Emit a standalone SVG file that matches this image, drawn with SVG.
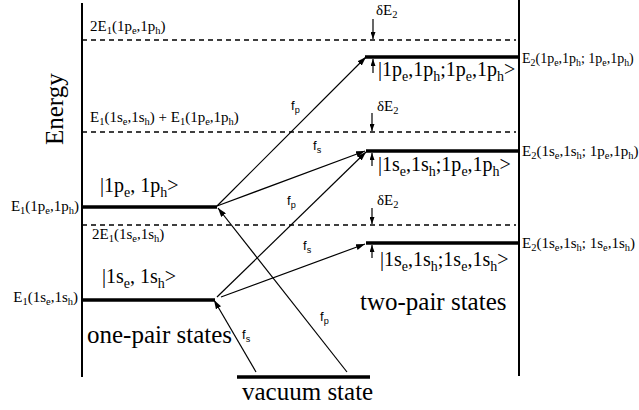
<svg xmlns="http://www.w3.org/2000/svg" width="639" height="410" viewBox="0 0 639 410">
<style>
.t{font-family:"Liberation Serif","Times New Roman",serif;fill:#000}
.sm{font-size:15px}
.lg{font-size:20px}
.xl{font-size:25px}
.s{font-size:0.7em}
.f{font-family:"Liberation Sans",Arial,sans-serif;font-size:13px;fill:#000}
.axis{stroke:#000;stroke-width:2;fill:none}
.dash{stroke:#000;stroke-width:1.3;stroke-dasharray:5 4;fill:none}
.lvl{stroke:#000;stroke-width:3.5;fill:none}
.conn{stroke:#000;stroke-width:1.2;fill:none;marker-end:url(#ah)}
.dE{stroke:#000;stroke-width:1.2;fill:none;marker-end:url(#ah2)}
</style>
<defs>
<marker id="ah" markerUnits="userSpaceOnUse" markerWidth="9" markerHeight="6" refX="9" refY="3" orient="auto"><path d="M0,0 L9,3 L0,6 z" fill="#000"/></marker>
<marker id="ah2" markerUnits="userSpaceOnUse" markerWidth="7" markerHeight="5" refX="7" refY="2.5" orient="auto"><path d="M0,0 L7,2.5 L0,5 z" fill="#000"/></marker>
</defs>
<rect width="639" height="410" fill="#fff"/>

<g id="axes">
<line class="axis" x1="82" y1="3" x2="82" y2="377"/>
<line class="axis" x1="519" y1="0" x2="519" y2="376"/>
<text class="t xl" transform="translate(63,145) rotate(-90)">Energy</text>
</g>

<g id="reference-levels">
<line class="dash" x1="82" y1="40" x2="516" y2="40"/>
<line class="dash" x1="82" y1="132" x2="516" y2="132"/>
<line class="dash" x1="82" y1="225" x2="516" y2="225"/>
<text class="t sm" x="90" y="31">2E<tspan class="s" dy="3">1</tspan><tspan dy="-3">(1p</tspan><tspan class="s" dy="3">e</tspan><tspan dy="-3">,1p</tspan><tspan class="s" dy="3">h</tspan><tspan dy="-3">)</tspan></text>
<text class="t sm" x="90" y="122">E<tspan class="s" dy="3">1</tspan><tspan dy="-3">(1s</tspan><tspan class="s" dy="3">e</tspan><tspan dy="-3">,1s</tspan><tspan class="s" dy="3">h</tspan><tspan dy="-3">) + E</tspan><tspan class="s" dy="3">1</tspan><tspan dy="-3">(1p</tspan><tspan class="s" dy="3">e</tspan><tspan dy="-3">,1p</tspan><tspan class="s" dy="3">h</tspan><tspan dy="-3">)</tspan></text>
<text class="t sm" x="92" y="239">2E<tspan class="s" dy="3">1</tspan><tspan dy="-3">(1s</tspan><tspan class="s" dy="3">e</tspan><tspan dy="-3">,1s</tspan><tspan class="s" dy="3">h</tspan><tspan dy="-3">)</tspan></text>
</g>

<g id="one-pair-1p">
<line class="lvl" x1="82" y1="207" x2="217" y2="207"/>
<text class="t sm" x="79" y="211" text-anchor="end">E<tspan class="s" dy="3">1</tspan><tspan dy="-3">(1p</tspan><tspan class="s" dy="3">e</tspan><tspan dy="-3">,1p</tspan><tspan class="s" dy="3">h</tspan><tspan dy="-3">)</tspan></text>
<text class="t lg" x="100" y="192">|1p<tspan class="s" dy="5">e</tspan><tspan dy="-5">, 1p</tspan><tspan class="s" dy="5">h</tspan><tspan dy="-5">&gt;</tspan></text>
</g>

<g id="one-pair-1s">
<line class="lvl" x1="82" y1="300" x2="215" y2="300"/>
<text class="t sm" x="78" y="302" text-anchor="end">E<tspan class="s" dy="3">1</tspan><tspan dy="-3">(1s</tspan><tspan class="s" dy="3">e</tspan><tspan dy="-3">,1s</tspan><tspan class="s" dy="3">h</tspan><tspan dy="-3">)</tspan></text>
<text class="t lg" x="102" y="283">|1s<tspan class="s" dy="5">e</tspan><tspan dy="-5">, 1s</tspan><tspan class="s" dy="5">h</tspan><tspan dy="-5">&gt;</tspan></text>
<text class="t xl" x="87" y="343">one-pair states</text>
</g>

<g id="two-pair-pp">
<line class="lvl" x1="365" y1="57" x2="519" y2="57"/>
<text class="t lg" x="378" y="76">|1p<tspan class="s" dy="5">e</tspan><tspan dy="-5">,1p</tspan><tspan class="s" dy="5">h</tspan><tspan dy="-5">;1p</tspan><tspan class="s" dy="5">e</tspan><tspan dy="-5">,1p</tspan><tspan class="s" dy="5">h</tspan><tspan dy="-5">&gt;</tspan></text>
<text class="t" style="font-size:14px" x="522" y="63">E<tspan class="s" dy="3">2</tspan><tspan dy="-3">(1p</tspan><tspan class="s" dy="3">e</tspan><tspan dy="-3">,1p</tspan><tspan class="s" dy="3">h</tspan><tspan dy="-3">; 1p</tspan><tspan class="s" dy="3">e</tspan><tspan dy="-3">,1p</tspan><tspan class="s" dy="3">h</tspan><tspan dy="-3">)</tspan></text>
</g>

<g id="two-pair-sp">
<line class="lvl" x1="366" y1="151" x2="519" y2="151"/>
<text class="t lg" x="378" y="171">|1s<tspan class="s" dy="5">e</tspan><tspan dy="-5">,1s</tspan><tspan class="s" dy="5">h</tspan><tspan dy="-5">;1p</tspan><tspan class="s" dy="5">e</tspan><tspan dy="-5">,1p</tspan><tspan class="s" dy="5">h</tspan><tspan dy="-5">&gt;</tspan></text>
<text class="t sm" x="522" y="156">E<tspan class="s" dy="3">2</tspan><tspan dy="-3">(1s</tspan><tspan class="s" dy="3">e</tspan><tspan dy="-3">,1s</tspan><tspan class="s" dy="3">h</tspan><tspan dy="-3">; 1p</tspan><tspan class="s" dy="3">e</tspan><tspan dy="-3">,1p</tspan><tspan class="s" dy="3">h</tspan><tspan dy="-3">)</tspan></text>
</g>

<g id="two-pair-ss">
<line class="lvl" x1="366" y1="243" x2="519" y2="243"/>
<text class="t lg" x="380" y="266">|1s<tspan class="s" dy="5">e</tspan><tspan dy="-5">,1s</tspan><tspan class="s" dy="5">h</tspan><tspan dy="-5">;1s</tspan><tspan class="s" dy="5">e</tspan><tspan dy="-5">,1s</tspan><tspan class="s" dy="5">h</tspan><tspan dy="-5">&gt;</tspan></text>
<text class="t sm" x="522" y="248">E<tspan class="s" dy="3">2</tspan><tspan dy="-3">(1s</tspan><tspan class="s" dy="3">e</tspan><tspan dy="-3">,1s</tspan><tspan class="s" dy="3">h</tspan><tspan dy="-3">; 1s</tspan><tspan class="s" dy="3">e</tspan><tspan dy="-3">,1s</tspan><tspan class="s" dy="3">h</tspan><tspan dy="-3">)</tspan></text>
<text class="t xl" x="360" y="310">two-pair states</text>
</g>

<g id="vacuum">
<line class="lvl" x1="237" y1="377" x2="370" y2="377"/>
<text class="t xl" x="242" y="400">vacuum state</text>
</g>

<g id="shifts">
<line class="dE" x1="373" y1="19" x2="373" y2="39"/>
<text class="t sm" x="376" y="15">δE<tspan class="s" dy="3">2</tspan></text>
<line class="dE" x1="373" y1="73" x2="373" y2="59"/>
<line class="dE" x1="372" y1="113" x2="372" y2="131"/>
<text class="t sm" x="377" y="111">δE<tspan class="s" dy="3">2</tspan></text>
<line class="dE" x1="372" y1="166" x2="372" y2="153"/>
<line class="dE" x1="372" y1="208" x2="372" y2="224"/>
<text class="t sm" x="377" y="205">δE<tspan class="s" dy="3">2</tspan></text>
<line class="dE" x1="372" y1="258" x2="372" y2="245"/>
</g>

<g id="connectors">
<line class="conn" x1="217" y1="206" x2="366" y2="57"/>
<line class="conn" x1="217" y1="206" x2="365" y2="151"/>
<line class="conn" x1="217" y1="297" x2="366" y2="152"/>
<line class="conn" x1="221" y1="297" x2="365" y2="244"/>
<line class="conn" x1="256" y1="372" x2="214" y2="300"/>
<line class="conn" x1="347" y1="372" x2="218" y2="208"/>
<text class="f" x="291" y="110">f<tspan class="s" dy="3">p</tspan></text>
<text class="f" x="313" y="150">f<tspan class="s" dy="3">s</tspan></text>
<text class="f" x="287" y="205">f<tspan class="s" dy="3">p</tspan></text>
<text class="f" x="303" y="250">f<tspan class="s" dy="3">s</tspan></text>
<text class="f" x="242" y="339">f<tspan class="s" dy="3">s</tspan></text>
<text class="f" x="320" y="321">f<tspan class="s" dy="3">p</tspan></text>
</g>
</svg>
